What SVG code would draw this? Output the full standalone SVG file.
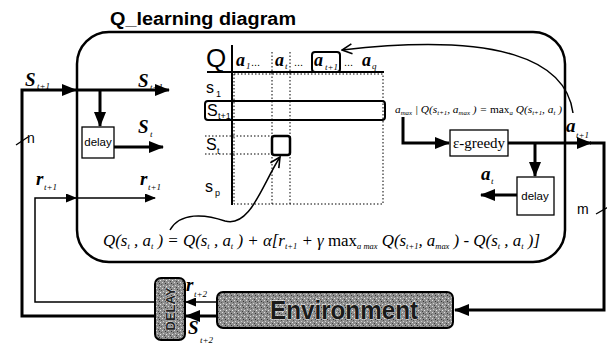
<svg xmlns="http://www.w3.org/2000/svg" width="607" height="345" viewBox="0 0 607 345">
<style>
.thick{stroke:#000;stroke-width:3;fill:none}
.thin{stroke:#000;stroke-width:1.5;fill:none}
.box{fill:#fff;stroke:#000;stroke-width:1.3}
.tex{fill:url(#grain);stroke:#000;stroke-width:2}
.dot{stroke:#000;stroke-width:1;stroke-dasharray:1.5 2;fill:none}
.sans{font-family:"Liberation Sans",Arial,sans-serif}
.ser{font-family:"Liberation Serif","Times New Roman",serif;font-style:italic}
.big{font-size:19px;font-weight:bold}
.sub{font-size:9px}
.hd{font-size:18px;font-weight:bold}
.rw{font-size:16px}
</style>
<defs>
<pattern id="grain" width="6" height="6" patternUnits="userSpaceOnUse">
<rect width="6" height="6" fill="#8e8e8e"/>
<rect x="0" y="0" width="1" height="1" fill="#dcdcdc"/>
<rect x="3" y="1" width="1" height="1" fill="#333"/>
<rect x="1" y="3" width="1" height="1" fill="#cfcfcf"/>
<rect x="4" y="4" width="1" height="1" fill="#e8e8e8"/>
<rect x="5" y="2" width="1" height="1" fill="#555"/>
<rect x="2" y="5" width="1" height="1" fill="#444"/>
</pattern>
<marker id="ab" markerUnits="userSpaceOnUse" markerWidth="15" markerHeight="12" refX="14" refY="6" orient="auto">
<path d="M0,0 L15,6 L0,12 z" fill="#000"/>
</marker>
<marker id="as" markerUnits="userSpaceOnUse" markerWidth="11" markerHeight="9" refX="10" refY="4.5" orient="auto">
<path d="M0,0 L11,4.5 L0,9 z" fill="#000"/>
</marker>
<marker id="ao" markerUnits="userSpaceOnUse" markerWidth="12" markerHeight="12" refX="11" refY="6" orient="auto">
<path d="M1,1 L11,6 L1,11" fill="none" stroke="#000" stroke-width="1.6"/>
</marker>
</defs>
<rect width="607" height="345" fill="#fff"/>

<text x="110" y="25" class="sans" font-size="18" font-weight="bold" textLength="186" lengthAdjust="spacingAndGlyphs">Q_learning diagram</text>

<g id="frame">
<rect x="77" y="32" width="488" height="230" rx="32" ry="32" fill="none" stroke="#000" stroke-width="2.5"/>
</g>

<g id="qtable">
<text x="206" y="67" class="sans" font-size="26">Q</text>
<line x1="232" y1="45" x2="232" y2="205" stroke="#000" stroke-width="2"/>
<line x1="207" y1="72" x2="384" y2="72" stroke="#000" stroke-width="2"/>
<rect x="234" y="74" width="149" height="130" class="dot"/>
<line x1="272" y1="52" x2="272" y2="204" class="dot"/>
<line x1="290" y1="52" x2="290" y2="204" class="dot"/>
<line x1="205" y1="136" x2="272" y2="136" class="dot"/>
<line x1="205" y1="154" x2="272" y2="154" class="dot"/>
<text class="ser hd" x="236" y="66">a</text><text class="ser sub" x="246" y="69">1</text>
<text class="sans" font-size="11" x="251" y="66">...</text>
<text class="ser hd" x="275" y="66">a</text><text class="ser sub" x="285" y="69">t</text>
<text class="sans" font-size="11" x="294" y="66">...</text>
<rect x="312" y="52" width="28" height="20" rx="3" fill="none" stroke="#000" stroke-width="2"/>
<text class="ser hd" x="314" y="66">a</text><text class="ser sub" x="325" y="70">t+1</text>
<text class="sans" font-size="11" x="344" y="66">...</text>
<text class="ser hd" x="362" y="66">a</text><text class="ser sub" x="372" y="69">q</text>
<text class="sans rw" x="206" y="93">s</text><text class="sans sub" x="216" y="97">1</text>
<rect x="205" y="101" width="180" height="19" rx="3" fill="none" stroke="#000" stroke-width="2"/>
<text class="sans rw" x="207" y="116">S</text><text class="sans sub" x="218" y="119">t+1</text>
<text class="sans rw" x="206" y="150">S</text><text class="sans sub" x="217" y="154">t</text>
<text class="sans rw" x="205" y="192">s</text><text class="sans sub" x="215" y="196">p</text>
<rect x="272" y="136" width="18" height="19" rx="2.5" fill="#fff" stroke="#000" stroke-width="2.5"/>
</g>

<g id="delay1">
<rect x="82" y="127" width="32" height="31" class="box"/>
<text x="98" y="146" class="sans" font-size="11.5" text-anchor="middle">delay</text>
</g>

<g id="egreedy">
<rect x="450" y="130" width="58" height="26" class="box"/>
<text x="479" y="148" font-family="'Liberation Serif','Times New Roman',serif" font-size="15" text-anchor="middle">ε-greedy</text>
</g>

<g id="delay2">
<rect x="517" y="177" width="37" height="38" class="box"/>
<text x="535" y="200" class="sans" font-size="11.5" text-anchor="middle">delay</text>
</g>

<g id="DELAY">
<rect x="155" y="278" width="30" height="62" rx="6" class="tex"/>
<text transform="translate(175,309) rotate(-90)" class="sans" font-size="13" font-weight="bold" text-anchor="middle" fill="#222" stroke="#eee" stroke-width="0.7" paint-order="stroke">DELAY</text>
</g>

<g id="environment">
<rect x="217" y="292" width="236" height="36" rx="6" class="tex"/>
<text x="270" y="319" class="sans" font-size="25" font-weight="bold" textLength="148" lengthAdjust="spacingAndGlyphs" fill="#1a1a1a" stroke="#f0f0f0" stroke-width="0.8" paint-order="stroke">Environment</text>
</g>

<g id="connectors">
<polyline points="155,316 22,316 22,90 76,90" class="thick" marker-end="url(#ab)"/>
<line x1="77" y1="90" x2="169" y2="90" class="thick" marker-end="url(#ab)"/>
<line x1="100" y1="90" x2="100" y2="126" class="thick" marker-end="url(#ab)"/>
<line x1="114" y1="147" x2="163" y2="147" class="thick" marker-end="url(#ab)"/>
<polyline points="155,302 35,302 35,198 76,198" class="thin" marker-end="url(#as)"/>
<line x1="77" y1="198" x2="155" y2="198" class="thin" marker-end="url(#as)"/>
<line x1="217" y1="302" x2="186" y2="302" class="thin" marker-end="url(#as)"/>
<line x1="217" y1="316" x2="186" y2="316" class="thick" marker-end="url(#ab)"/>
<polyline points="403,117 403,143 449,143" class="thick" marker-end="url(#ab)"/>
<line x1="508" y1="143" x2="591" y2="143" class="thick" marker-end="url(#ab)"/>
<polyline points="590,143 604,143 604,310 455,310" class="thick" marker-end="url(#ab)"/>
<line x1="535" y1="143" x2="535" y2="176" class="thick" marker-end="url(#ab)"/>
<line x1="517" y1="195" x2="481" y2="195" class="thick" marker-end="url(#ab)"/>
<path d="M573,113 C566,60 500,32 342,50" class="thin" marker-end="url(#ao)"/>
<path d="M170,230 C180,212 205,214 225,221 C250,228 262,185 280,157" class="thin" marker-end="url(#ao)"/>
<line x1="16" y1="145" x2="28" y2="137" stroke="#000" stroke-width="1.3"/>
<line x1="596" y1="214" x2="610" y2="206" stroke="#000" stroke-width="1.3"/>
</g>

<g id="labels">
<text class="ser big" x="25" y="86">S</text><text class="ser sub" x="37" y="89">t+1</text>
<text class="ser big" x="138" y="87">S</text><text class="ser sub" x="150" y="90">t+1</text>
<text class="ser big" x="138" y="133">S</text><text class="ser sub" x="150" y="137">t</text>
<text class="ser big" x="36" y="185">r</text><text class="ser sub" x="44" y="190">t+1</text>
<text class="ser big" x="140" y="185">r</text><text class="ser sub" x="148" y="190">t+1</text>
<text class="ser big" x="186" y="291">r</text><text class="ser sub" x="194" y="297">t+2</text>
<text class="ser big" x="188" y="334">S</text><text class="ser sub" x="200" y="343">t+2</text>
<text class="ser big" x="566" y="132">a</text><text class="ser sub" x="576" y="138">t+1</text>
<text class="ser big" x="481" y="180">a</text><text class="ser sub" x="491" y="184">t</text>
<text class="sans" font-size="14" x="27" y="143">n</text>
<text class="sans" font-size="14" x="577" y="214">m</text>
<text class="ser" font-size="10" x="395" y="113" textLength="167" lengthAdjust="spacingAndGlyphs">a<tspan font-size="6" dy="2">max</tspan><tspan dy="-2"> | Q(s</tspan><tspan font-size="6" dy="2">t+1</tspan><tspan dy="-2">, a</tspan><tspan font-size="6" dy="2">max</tspan><tspan dy="-2"> ) = </tspan><tspan font-style="normal">max</tspan><tspan font-size="6" dy="2">a</tspan><tspan dy="-2"> Q(s</tspan><tspan font-size="6" dy="2">t+1</tspan><tspan dy="-2">, a</tspan><tspan font-size="6" dy="2">t</tspan><tspan dy="-2"> )</tspan></text>
<text class="ser" font-size="16" x="103" y="246" textLength="437" lengthAdjust="spacingAndGlyphs">Q(s<tspan font-size="8" dy="3">t</tspan><tspan dy="-3"> , a</tspan><tspan font-size="8" dy="3">t</tspan><tspan dy="-3"> ) = Q(s</tspan><tspan font-size="8" dy="3">t</tspan><tspan dy="-3"> , a</tspan><tspan font-size="8" dy="3">t</tspan><tspan dy="-3"> ) + α[r</tspan><tspan font-size="8" dy="3">t+1</tspan><tspan dy="-3"> + γ </tspan><tspan font-style="normal">max</tspan><tspan font-size="8" dy="3">a max</tspan><tspan dy="-3"> Q(s</tspan><tspan font-size="8" dy="3">t+1</tspan><tspan dy="-3">, a</tspan><tspan font-size="8" dy="3">max</tspan><tspan dy="-3"> ) - Q(s</tspan><tspan font-size="8" dy="3">t</tspan><tspan dy="-3"> , a</tspan><tspan font-size="8" dy="3">t</tspan><tspan dy="-3"> )]</tspan></text>
</g>
</svg>
